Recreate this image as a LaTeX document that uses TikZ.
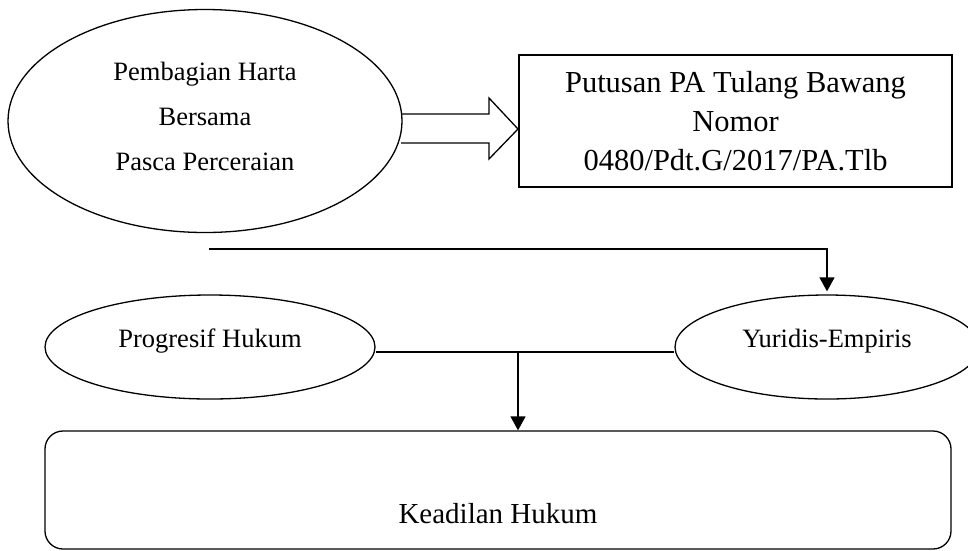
\documentclass[tikz,border=0pt]{standalone}
\usepackage{fontspec}
\setmainfont{Liberation Serif}
\usetikzlibrary{shapes.geometric, arrows.meta, calc}

\begin{document}
\begin{tikzpicture}[x=1pt, y=-1pt, line width=1.3pt,
  oval/.style={draw, ellipse, inner sep=0pt, font=\fontsize{26.5}{45}\selectfont},
  rectbox/.style={draw, rectangle, inner sep=0pt, align=center},
  arrowline/.style={-{Triangle[width=15pt,length=14pt]}}]
  \useasboundingbox (0,0) rectangle (968,550);
  % top row
  \node[oval, align=center, minimum width=394pt, minimum height=223pt, text depth=10pt] (harta) at (205,121) {Pembagian Harta\\Bersama\\Pasca Perceraian};
  \node[rectbox, minimum width=433pt, minimum height=132pt, font=\fontsize{30.5}{39}\selectfont] (putusan) at (735.5,121) {Putusan PA Tulang Bawang\\Nomor\\0480/Pdt.G/2017/PA.Tlb};
  \draw (401,114) -- (489,114) -- (489,98) -- (518,129) -- (489,159) -- (489,143) -- (401,143);
  % middle row
  \node[oval, minimum width=330pt, minimum height=104pt, text height=10pt, text depth=10pt] (progresif) at (210,347) {Progresif Hukum};
  \node[oval, minimum width=304pt, minimum height=104pt, text height=10pt, text depth=10pt] (yuridis) at (827,347) {Yuridis-Empiris};
  \coordinate (start) at (209,249);
  \draw[arrowline, shorten >=3pt] (start) -- (start -| yuridis.north) -- (yuridis.north);
  % bottom
  \node[rectbox, rounded corners=18pt, minimum width=906pt, minimum height=118pt] (adil) at (498,490) {};
  \node[anchor=base, font=\fontsize{29}{34}\selectfont] (adiltext) at (498,523) {Keadilan Hukum};
  \coordinate (junction) at (518,352);
  \draw (progresif.east |- junction) -- (yuridis.west |- junction);
  \draw[arrowline] (junction) -- (junction |- adil.north);
\end{tikzpicture}
\end{document}
